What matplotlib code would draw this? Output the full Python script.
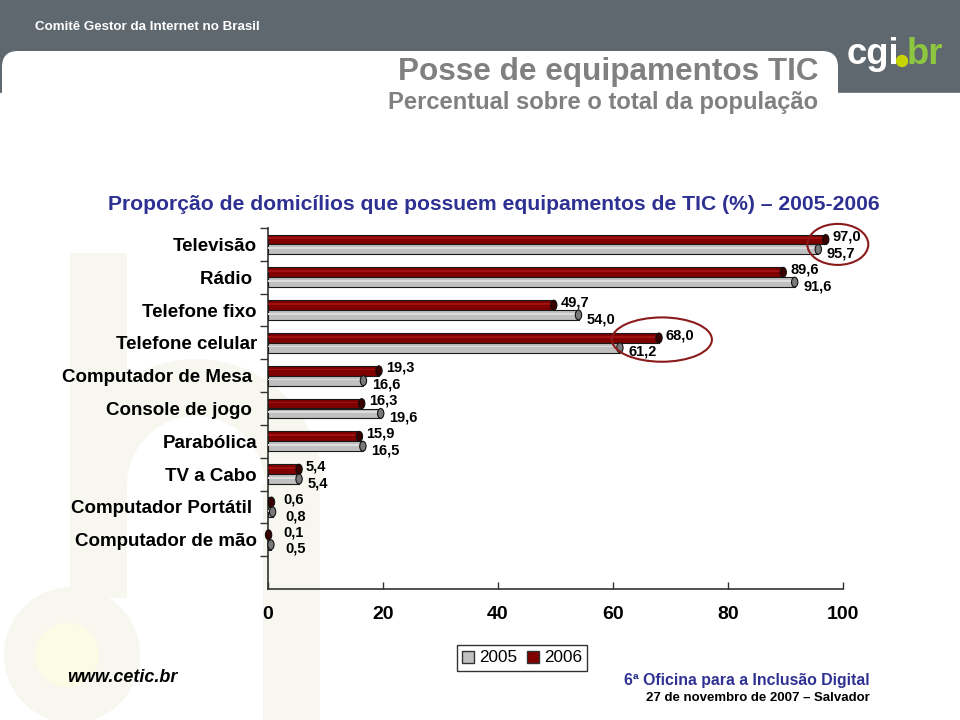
import numpy as np
import matplotlib
matplotlib.use('Agg')
import matplotlib.pyplot as plt
from matplotlib import font_manager
from matplotlib.patches import Rectangle, Ellipse, FancyBboxPatch, Circle, Wedge, Patch

categorias = ['Televisão', 'Rádio ', 'Telefone fixo', 'Telefone celular',
              'Computador de Mesa ', 'Console de jogo ', 'Parabólica',
              'TV a Cabo', 'Computador Portátil ', 'Computador de mão']
v2005 = [95.7, 91.6, 54.0, 61.2, 16.6, 19.6, 16.5, 5.4, 0.8, 0.5]
v2006 = [97.0, 89.6, 49.7, 68.0, 19.3, 16.3, 15.9, 5.4, 0.6, 0.1]
xticks = [0, 20, 40, 60, 80, 100]
anos = ['2005', '2006']

nomes = {f.name for f in font_manager.fontManager.ttflist}
NARROW = 'Liberation Sans Narrow' if 'Liberation Sans Narrow' in nomes else 'Liberation Sans'
k = 1.0 if NARROW == 'Liberation Sans Narrow' else 0.82
plt.rcParams['font.family'] = 'Liberation Sans'

cinza = '#5F676F'
azul = '#2E3192'
vermelho = '#800000'
vermelho_esc = '#3A0000'
cinza_barra = '#C0C0C0'
cinza_esc = '#7A7A7A'
wm = '#F7F7EF'

fig = plt.figure(figsize=(9.6, 7.2), dpi=100)

# fundo / cabecalho em pixels
bg = fig.add_axes([0, 0, 1, 1], zorder=0)
bg.set_xlim(0, 960)
bg.set_ylim(720, 0)
bg.axis('off')
bg.add_patch(Rectangle((0, 0), 960, 93, color=cinza))
bg.add_patch(FancyBboxPatch((2, 51), 836, 200, boxstyle='round,pad=0,rounding_size=16',
                            fc='white', ec='none'))
bg.add_patch(Rectangle((0, 93), 960, 627, color='white'))

# marca d'agua
bg.add_patch(Rectangle((70, 253), 57, 345, color=wm, lw=0))
bg.add_patch(Wedge((196, 485), 126, 180, 360, width=57, color=wm, lw=0))
bg.add_patch(Rectangle((263, 485), 57, 235, color=wm, lw=0))
bg.add_patch(Circle((72, 655), 68, color=wm, lw=0))
bg.add_patch(Circle((67, 655), 32, color='#FCFCE6', lw=0))

bg.text(35, 27, 'Comitê Gestor da Internet no Brasil', color='white', fontsize=11.8 * k,
        fontweight='bold', family=NARROW, va='center')
bg.text(847, 64, 'cgi', color='white', fontsize=32 * k, fontweight='bold', family=NARROW)
bg.add_patch(Circle((902, 61), 5.5, color='#C8D400'))
bg.text(907, 64, 'br', color='#8DC63F', fontsize=32 * k, fontweight='bold', family=NARROW)

bg.text(818, 72, 'Posse de equipamentos TIC', ha='right', va='center', color='#808080',
        fontsize=27.7 * k, fontweight='bold', family=NARROW)
bg.text(818, 103, 'Percentual sobre o total da população', ha='right', va='center',
        color='#808080', fontsize=20.9 * k, fontweight='bold', family=NARROW)
bg.text(494, 205, 'Proporção de domicílios que possuem equipamentos de TIC (%) – 2005-2006',
        ha='center', va='center', color=azul, fontsize=18.6 * k, fontweight='bold', family=NARROW)

bg.text(67, 677, 'www.cetic.br', fontsize=13, fontweight='bold', style='italic', va='center')
bg.text(870, 680, '6ª Oficina para a Inclusão Digital', ha='right', va='center', color=azul,
        fontsize=13.9 * k, fontweight='bold', family=NARROW)
bg.text(870, 698, '27 de novembro de 2007 – Salvador', ha='right', va='center', color='black',
        fontsize=11.6 * k, fontweight='bold', family=NARROW)

# grafico
ax = fig.add_axes([268 / 960, 1 - 589 / 720, 575 / 960, 361 / 720], zorder=2)
ax.patch.set_alpha(0)
n = len(categorias)
y = np.arange(n)
h = 0.3

ax.barh(y - h / 2, v2006, height=h, color=vermelho, edgecolor='#1a1a1a', lw=0.8, zorder=3)
ax.barh(y - h / 2 - h * 0.12, v2006, height=h * 0.18, color='#A01010', lw=0, zorder=3)
ax.barh(y + h / 2, v2005, height=h, color=cinza_barra, edgecolor='#1a1a1a', lw=0.8, zorder=3)
ax.barh(y + h / 2 - h * 0.12, v2005, height=h * 0.18, color='#DCDCDC', lw=0, zorder=3)

for i in range(n):
    ax.add_patch(Ellipse((v2006[i], y[i] - h / 2), 1.1, h, fc=vermelho_esc, ec='#111111',
                         lw=0.8, zorder=4, clip_on=False))
    ax.add_patch(Ellipse((v2005[i], y[i] + h / 2), 1.1, h, fc=cinza_esc, ec='#111111',
                         lw=0.8, zorder=4, clip_on=False))
    ax.annotate(f'{v2006[i]:.1f}'.replace('.', ','), (max(v2006[i], 1.4), y[i] - h / 2),
                xytext=(5, 2), textcoords='offset points', va='center', ha='left',
                fontsize=10.5, fontweight='bold', zorder=5)
    ax.annotate(f'{v2005[i]:.1f}'.replace('.', ','), (max(v2005[i], 1.6), y[i] + h / 2),
                xytext=(6, -3), textcoords='offset points', va='center', ha='left',
                fontsize=10.5, fontweight='bold', zorder=5)

# destaques
ax.add_patch(Ellipse((99.1, 0.0), 10.6, 1.25, fc='none', ec='#8B1A1A', lw=1.5,
                     clip_on=False, zorder=6))
ax.add_patch(Ellipse((68.5, 2.9), 17.4, 1.35, fc='none', ec='#8B1A1A', lw=1.5,
                     clip_on=False, zorder=6))

ax.set_xlim(0, 100)
ax.set_ylim(n + 0.5, -0.5)
ax.set_yticks(np.arange(-0.5, n, 1))
ax.set_yticklabels([])
ax.set_yticks(y, minor=True)
ax.set_yticklabels(categorias, minor=True, fontsize=13.5, fontweight='bold')
ax.tick_params(axis='y', which='major', direction='out', length=6, width=1, color='#333333')
ax.tick_params(axis='y', which='minor', length=0, pad=8)
ax.set_xticks(xticks)
ax.set_xticklabels([str(t) for t in xticks], fontsize=14, fontweight='bold')
ax.tick_params(axis='x', direction='in', length=5, width=1, color='#333333', pad=12)
for s in ['top', 'right']:
    ax.spines[s].set_visible(False)
for s in ['left', 'bottom']:
    ax.spines[s].set_color('#333333')
    ax.spines[s].set_linewidth(1.2)

leg = fig.legend(handles=[Patch(fc=cinza_barra, ec='#333333'), Patch(fc=vermelho, ec='#333333')],
                 labels=anos, ncol=2, loc='center', bbox_to_anchor=(522 / 960, 1 - 658 / 720),
                 frameon=True, fancybox=False, edgecolor='black', handlelength=0.7,
                 handleheight=0.7, columnspacing=0.6, handletextpad=0.3, borderpad=0.3,
                 prop={'family': NARROW, 'size': 15 * k})
leg.get_frame().set_linewidth(1)

plt.savefig('out.png', dpi=100)
